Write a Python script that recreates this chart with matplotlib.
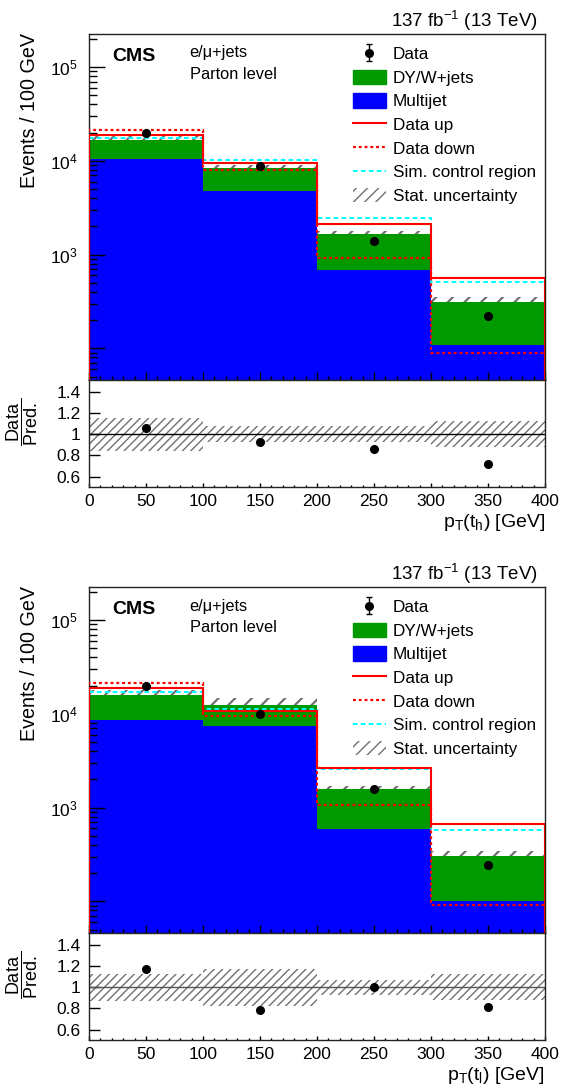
import numpy as np
import matplotlib
matplotlib.use("Agg")
import matplotlib.pyplot as plt
from matplotlib.patches import Patch
from matplotlib.lines import Line2D

plt.rcParams["font.family"] = ["Liberation Sans", "DejaVu Sans"]
plt.rcParams["mathtext.fontset"] = "custom"
plt.rcParams["mathtext.rm"] = "Liberation Sans"
plt.rcParams["mathtext.it"] = "Liberation Sans:italic"
plt.rcParams["mathtext.bf"] = "Liberation Sans:bold"

bin_edges = [0, 100, 200, 300, 400]

# upper figure: p_T(t_h)
th_multijet = [1.05e4, 4.8e3, 690, 109]
th_total = [1.68e4, 8.4e3, 1.67e3, 314]
th_data = [2.0e4, 8.8e3, 1.41e3, 223]
th_data_up = [1.9e4, 9.5e3, 2.14e3, 559]
th_data_down = [2.15e4, 8.0e3, 930, 89.5]
th_sim_cr = [1.74e4, 1.02e4, 2.43e3, 514]
th_ratio = [1.062, 0.928, 0.857, 0.72]
th_stat = [0.155, 0.078, 0.078, 0.125]

# lower figure: p_T(t_l)
tl_multijet = [8.6e3, 7.5e3, 590, 102]
tl_total = [1.6e4, 1.25e4, 1.59e3, 305]
tl_data = [2.0e4, 1.0e4, 1.59e3, 245]
tl_data_up = [1.9e4, 1.06e4, 2.63e3, 661]
tl_data_down = [2.15e4, 9.4e3, 1.06e3, 92.5]
tl_sim_cr = [1.7e4, 1.13e4, 2.6e3, 575]
tl_ratio = [1.168, 0.785, 1.0, 0.813]
tl_stat = [0.128, 0.175, 0.07, 0.122]

legend_labels = ["Data", "DY/W+jets", "Multijet", "Data up", "Data down",
                 "Sim. control region", "Stat. uncertainty"]

BLUE = "#0000ff"
GREEN = "#009900"
RED = "#ff0000"
CYAN = "#00ffff"
HATCH = "#707070"

W, H = 561, 1091
YMIN, YMAX = 46, 2.25e5


def fx(x):
    return x / W


def fy(y):
    return 1 - y / H


def style_axis(ax):
    for s in ax.spines.values():
        s.set_color("#222222")
        s.set_linewidth(1.0)


def draw_panel(fig, dy, multijet, total, data, up, down, sim, ratio, stat, xlabel):
    edges = np.array(bin_edges, dtype=float)
    centers = 0.5 * (edges[:-1] + edges[1:])
    multijet = np.array(multijet)
    total = np.array(total)
    stat = np.array(stat)

    ax = fig.add_axes([fx(89), fy(380 + dy), fx(456), 346 / H])
    axr = fig.add_axes([fx(89), fy(487.3 + dy), fx(456), 107.3 / H])

    # main panel
    ax.set_yscale("log")
    ax.stairs(multijet, edges, baseline=YMIN, fill=True, color=BLUE, lw=0, zorder=1)
    with plt.rc_context({"hatch.linewidth": 1.6}):
        ax.stairs(total * (1 + stat), edges, baseline=total * (1 - stat), fill=True,
                  facecolor="none", edgecolor=HATCH, hatch="//", lw=0, zorder=1.5)
    ax.stairs(total, edges, baseline=multijet, fill=True, color=GREEN, lw=0, zorder=2)
    ax.stairs(sim, edges, baseline=None, color=CYAN, lw=1.5,
              linestyle=(0, (2.2, 1.6)), zorder=3)
    ax.stairs(down, edges, baseline=YMIN, color=RED, lw=1.6,
              linestyle=(0, (1.3, 1.3)), zorder=3.1)
    ax.stairs(up, edges, baseline=YMIN, color=RED, lw=1.5, zorder=3.2)
    ax.plot(centers, data, "o", color="k", ms=5.5, zorder=4)
    data_h = ax.errorbar([-1000], [1000], yerr=[300], fmt="o", color="k", ms=5.5,
                         capsize=2.5, elinewidth=1)

    ax.set_xlim(0, 400)
    ax.set_ylim(YMIN, YMAX)
    ax.set_yticks([1e2, 1e3, 1e4, 1e5])
    ax.set_yticklabels(["", "$10^{3}$", "$10^{4}$", "$10^{5}$"])
    ax.set_yticks([m * 10 ** e for e in range(1, 6) for m in range(2, 10)
                   if YMIN < m * 10 ** e < YMAX], minor=True)
    ax.set_xticks(np.arange(0, 401, 50))
    ax.set_xticks(np.arange(0, 401, 10), minor=True)
    ax.tick_params(axis="y", which="major", direction="in", length=11.3, width=1,
                   labelsize=12.5, pad=8, right=False)
    ax.tick_params(axis="y", which="minor", direction="in", length=5.8, width=1, right=False)
    ax.tick_params(axis="x", which="major", direction="in", length=5.8, width=1,
                   labelbottom=False, top=False)
    ax.tick_params(axis="x", which="minor", direction="in", length=2.9, width=1, top=False)
    style_axis(ax)

    with plt.rc_context({"hatch.linewidth": 1.0}):
        stat_h = Patch(facecolor="none", edgecolor=HATCH, hatch="///", lw=0)
    handles = [data_h,
               Patch(facecolor=GREEN, edgecolor=GREEN),
               Patch(facecolor=BLUE, edgecolor=BLUE),
               Line2D([], [], color=RED, lw=1.5),
               Line2D([], [], color=RED, lw=1.6, linestyle=(0, (1.3, 1.3))),
               Line2D([], [], color=CYAN, lw=1.5, linestyle=(0, (2.2, 1.6))),
               stat_h]
    ax.legend(handles, legend_labels, loc="upper left",
              bbox_to_anchor=(fx(352.7), fy(46 + dy)), bbox_transform=fig.transFigure,
              frameon=False, fontsize=12.3, handlelength=1.93, handleheight=0.95,
              handletextpad=0.4, labelspacing=0.43, borderpad=0, borderaxespad=0)

    # ratio panel
    with plt.rc_context({"hatch.linewidth": 1.0}):
        axr.stairs(1 + stat, edges, baseline=1 - stat, fill=True, facecolor="none",
                   edgecolor=HATCH, hatch="////", lw=0, zorder=1)
    axr.axhline(1, color="k" if dy == 0 else "#555555", lw=1, zorder=2)
    axr.plot(centers, ratio, "o", color="k", ms=5.5, zorder=3)
    axr.set_xlim(0, 400)
    axr.set_ylim(0.5, 1.51)
    axr.set_yticks([0.6, 0.8, 1.0, 1.2, 1.4])
    axr.set_yticklabels(["0.6", "0.8", "1", "1.2", "1.4"])
    axr.set_xticks(np.arange(0, 401, 50))
    axr.set_xticks(np.arange(0, 401, 10), minor=True)
    axr.tick_params(axis="y", which="major", direction="in", length=7.7, width=1,
                    labelsize=12.5, pad=6, right=False)
    axr.tick_params(axis="x", which="major", direction="in", length=2.8, width=1,
                    labelsize=12.5, pad=5, top=False)
    axr.tick_params(axis="x", which="minor", direction="in", length=1.6, width=1, top=False)
    style_axis(axr)

    # texts
    fig.text(fx(538), fy(27 + dy), "137 fb$^{-1}$ (13 TeV)", ha="right",
             va="baseline", fontsize=13.5)
    fig.text(fx(112), fy(61 + dy), "CMS", ha="left", va="baseline",
             fontsize=14, weight="bold")
    fig.text(fx(189.5), fy(57.5 + dy), "e/μ+jets", ha="left", va="baseline", fontsize=11.8)
    fig.text(fx(189.5), fy(79 + dy), "Parton level", ha="left", va="baseline", fontsize=11.8)
    fig.text(fx(29.5), fy(33 + dy), "Events / 100 GeV", rotation=90, ha="center",
             va="top", fontsize=14.2)
    fig.text(fx(22), fy(422 + dy), r"$\dfrac{\mathrm{Data}}{\mathrm{Pred.}}$",
             rotation=90, ha="center", va="center", fontsize=13)
    fig.text(fx(545), fy(527 + dy), xlabel, ha="right", va="baseline", fontsize=14)


fig = plt.figure(figsize=(W / 100, H / 100), dpi=100)

draw_panel(fig, 0, th_multijet, th_total, th_data, th_data_up, th_data_down,
           th_sim_cr, th_ratio, th_stat, r"p$_{\mathrm{T}}$(t$_{\mathrm{h}}$) [GeV]")
draw_panel(fig, 553, tl_multijet, tl_total, tl_data, tl_data_up, tl_data_down,
           tl_sim_cr, tl_ratio, tl_stat, r"p$_{\mathrm{T}}$(t$_{\mathrm{l}}$) [GeV]")

fig.savefig("out.png", dpi=100)
